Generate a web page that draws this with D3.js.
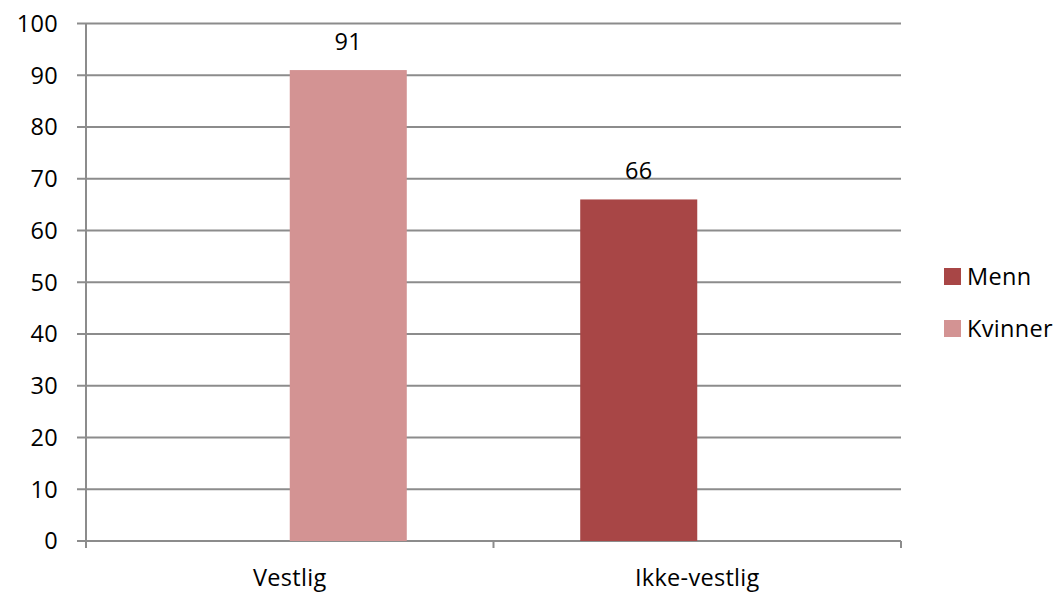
<!DOCTYPE html>
<html><head><meta charset="utf-8">
<script src="https://cdn.jsdelivr.net/npm/d3@7"></script>
<style>
body{margin:0;background:#fff;}
text{font-family:"Open Sans",sans-serif;fill:#000;}
</style></head>
<body>
<svg id="c" width="1059" height="593"></svg>
<script>
const categories = ["Vestlig", "Ikke-vestlig"];
const seriesNames = ["Menn", "Kvinner"];
const menn = [null, 66];
const kvinner = [91, null];
const yTicks = [0,10,20,30,40,50,60,70,80,90,100];
const colors = {"Menn":"#A84646","Kvinner":"#D39393"};

(function(){
const svg = d3.select("#c");
const pl = 86, pr = 901, pt = 23.5, pb = 541;
const x = d3.scaleBand().domain(categories).range([pl, pr]).padding(0);
const xs = d3.scaleBand().domain(seriesNames).range([0, x.bandwidth()]).paddingInner(0).paddingOuter(0.741);
const y = d3.scaleLinear().domain([0,100]).range([pb, pt]);

const fs = "23.5px", ls = "0.3px";
svg.append("g").selectAll("line").data(yTicks).join("line")
  .attr("x1", pl-9).attr("x2", pr)
  .attr("y1", d=>y(d)).attr("y2", d=>y(d))
  .attr("stroke", "#8c8c8c").attr("stroke-width", 2);
svg.append("line").attr("x1", pl).attr("x2", pl).attr("y1", pt).attr("y2", pb+7)
  .attr("stroke", "#8c8c8c").attr("stroke-width", 2);
const xTickPos = [pl, ...categories.map(c=>x(c)+x.bandwidth())];
svg.append("g").selectAll("line").data(xTickPos).join("line")
  .attr("x1", d=>d).attr("x2", d=>d).attr("y1", pb).attr("y2", pb+7)
  .attr("stroke", "#8c8c8c").attr("stroke-width", 2);
svg.append("g").selectAll("text").data(yTicks).join("text")
  .attr("x", 58).attr("y", d=>y(d)).attr("dy","0.36em")
  .attr("text-anchor","end").style("font-size",fs).style("letter-spacing",ls).text(d=>d);
const rows = [];
categories.forEach((c,i)=>{
  rows.push({c, s:"Menn", v:menn[i]});
  rows.push({c, s:"Kvinner", v:kvinner[i]});
});
const valid = rows.filter(r=>r.v!=null);
svg.append("g").selectAll("rect").data(valid).join("rect")
  .attr("x", d=>x(d.c)+xs(d.s)).attr("width", xs.bandwidth())
  .attr("y", d=>y(d.v)).attr("height", d=>y(0)-y(d.v))
  .attr("fill", d=>colors[d.s]);
svg.append("g").selectAll("text").data(valid).join("text")
  .attr("x", d=>x(d.c)+xs(d.s)+xs.bandwidth()/2).attr("y", d=>y(d.v)-20)
  .attr("text-anchor","middle").style("font-size",fs).style("letter-spacing",ls).text(d=>d.v);
svg.append("g").selectAll("text").data(categories).join("text")
  .attr("x", d=>x(d)+x.bandwidth()/2).attr("y", 586)
  .attr("text-anchor","middle").style("font-size",fs).style("letter-spacing",ls).text(d=>d);
const lg = svg.append("g").selectAll("g").data(seriesNames).join("g")
  .attr("transform",(d,i)=>`translate(944,${268+i*52})`);
lg.append("rect").attr("width",17).attr("height",17).attr("fill",d=>colors[d]);
lg.append("text").attr("x",23).attr("y",17).style("font-size",fs).style("letter-spacing",ls).text(d=>d);
})();
</script>
</body></html>
